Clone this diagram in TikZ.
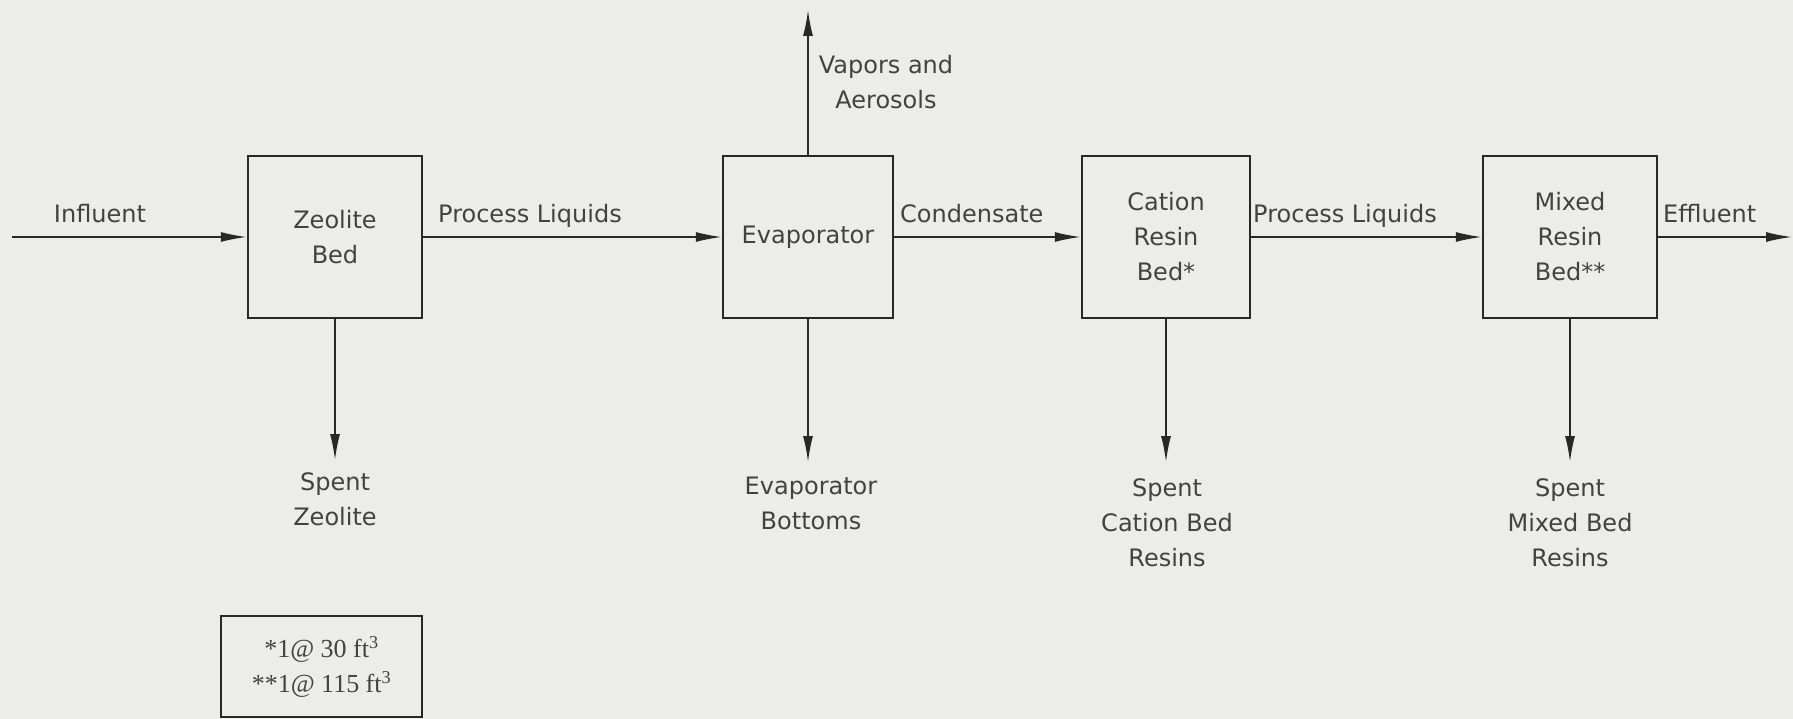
\documentclass[tikz,border=0pt]{standalone}
\usepackage{fontspec}
\setmainfont{DejaVu Sans}
\newfontfamily\notefont{Liberation Serif}
\usetikzlibrary{arrows.meta}
\definecolor{bg}{RGB}{236,236,234}
\definecolor{ink}{RGB}{40,40,40}
\definecolor{txt}{RGB}{66,66,66}
\begin{document}
\begin{tikzpicture}[x=1pt,y=-1pt,
  unit/.style={draw=ink, line width=2.4pt, minimum height=162pt, align=center,
    text=txt, font=\fontsize{24}{35}\selectfont, inner sep=0pt},
  flow/.style={draw=ink, line width=1.6pt, -{Latex[length=26pt,width=10pt]}},
  lbl/.style={text=txt, font=\fontsize{24}{35}\selectfont, inner sep=0pt, align=center},
  notebox/.style={draw=ink, line width=1.8pt, minimum width=201pt, minimum height=101pt,
    inner sep=0pt, align=center, text=txt, font=\notefont\fontsize{26}{35}\selectfont}]
\fill[bg] (0,0) rectangle (1793,719);
\useasboundingbox (0,0) rectangle (1793,719);

% process units
\node[unit, minimum width=174pt] (zeo)  at (335,237)  {Zeolite\\Bed};
\node[unit, minimum width=170pt] (evap) at (808,237)  {Evaporator};
\node[unit, minimum width=168pt] (cat)  at (1166,237) {Cation\\Resin\\Bed*};
\node[unit, minimum width=174pt] (mix)  at (1570,237) {Mixed\\Resin\\Bed**};

% free ends
\coordinate (in)   at (12,237);
\coordinate (out)  at (1792,237);
\coordinate (vap)  at (808,10);
\coordinate (zeod) at (335,460);
\coordinate (evad) at (808,462);
\coordinate (catd) at (1166,462);
\coordinate (mixd) at (1570,462);

% main flow
\draw[flow] (in) -- (zeo.west);
\draw[flow] (zeo.east) -- (evap.west);
\draw[flow] (evap.east) -- (cat.west);
\draw[flow] (cat.east) -- (mix.west);
\draw[flow] (mix.east) -- (out);
\draw[flow] (evap.north) -- (vap);
\draw[flow] (zeo.south) -- (zeod);
\draw[flow] (evap.south) -- (evad);
\draw[flow] (cat.south) -- (catd);
\draw[flow] (mix.south) -- (mixd);

% stream labels
\node[lbl, anchor=base] (linf) at (100,223) {Influent};
\node[lbl, anchor=base west] (lpl1) at (438,223) {Process Liquids};
\node[lbl, anchor=base west] (lcon) at (900,223) {Condensate};
\node[lbl, anchor=base west] (lpl2) at (1253,223) {Process Liquids};
\node[lbl, anchor=base west] (leff) at (1663,223) {Effluent};
\node[lbl, anchor=north] (lvap) at (886,55) {Vapors and\\Aerosols};

% outputs
\node[lbl, anchor=north] (lzeo) at (335,472) {Spent\\Zeolite};
\node[lbl, anchor=north] (levp) at (811,477) {Evaporator\\Bottoms};
\node[lbl, anchor=north] (lcat) at (1167,478) {Spent\\Cation Bed\\Resins};
\node[lbl, anchor=north] (lmix) at (1570,478) {Spent\\Mixed Bed\\Resins};

% footnote
\node[notebox] (note) at (321.5,666.5) {*1@ 30 ft\textsuperscript{3}\\**1@ 115 ft\textsuperscript{3}};
\end{tikzpicture}
\end{document}
